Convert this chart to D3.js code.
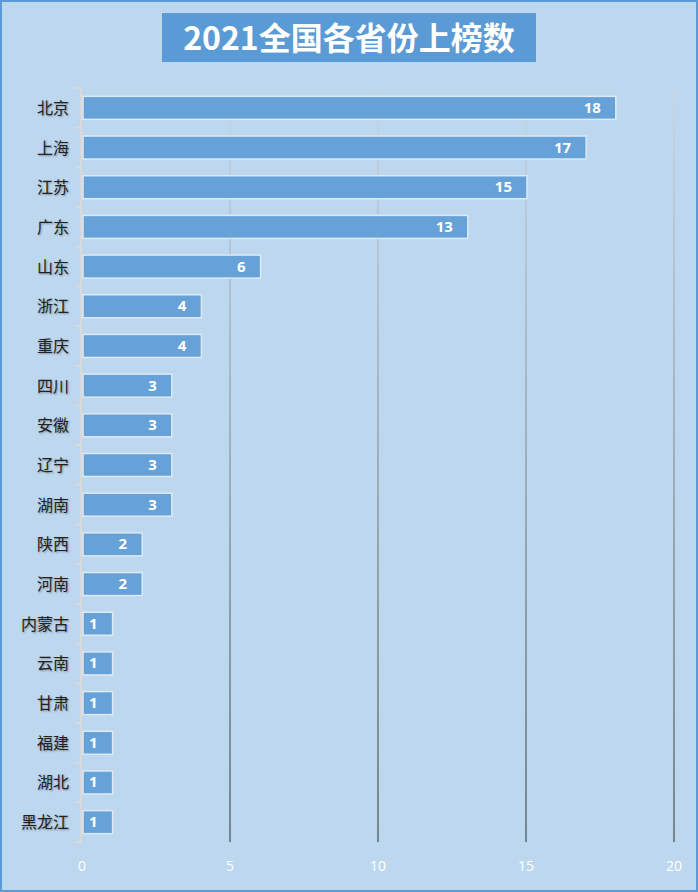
<!DOCTYPE html><html><head><meta charset="utf-8"><script src="https://cdn.jsdelivr.net/npm/d3@7"></script>
<style>body{margin:0}svg{display:block}</style></head><body><svg id="c" width="698" height="892"></svg>
<script>
const categories=["北京","上海","江苏","广东","山东","浙江","重庆","四川","安徽","辽宁","湖南","陕西","河南","内蒙古","云南","甘肃","福建","湖北","黑龙江"];
const values=[18,17,15,13,6,4,4,3,3,3,3,2,2,1,1,1,1,1,1];
const xTicks=[0,5,10,15,20];
const svg=d3.select("#c");
const defs=svg.append("defs");
const g=defs.append("linearGradient").attr("id","gl").attr("gradientUnits","userSpaceOnUse").attr("x1",0).attr("y1",88).attr("x2",0).attr("y2",842);
g.append("stop").attr("offset","0").attr("stop-color","#c6d6e4");
g.append("stop").attr("offset","1").attr("stop-color","#78838f");
svg.append("rect").attr("x",1).attr("y",1).attr("width",696).attr("height",890).attr("fill","#bdd7ee").attr("stroke","#5b9bd5").attr("stroke-width",2);
svg.append("rect").attr("x",162).attr("y",13).attr("width",374).attr("height",49).attr("fill","#5b9bd5");
svg.append("text").attr("x",349).attr("y",50).attr("text-anchor","middle").attr("fill","#fff").attr("font-size",32).attr("font-weight","bold").attr("font-family","'Noto Sans CJK SC',sans-serif").text("2021全国各省份上榜数");
const x=d3.scaleLinear().domain([0,20]).range([82,674]);
const y=d3.scaleBand().domain(categories).range([88,842]).paddingInner(0.42).paddingOuter(0.21);
svg.append("g").selectAll("line").data(xTicks.slice(1)).join("line").attr("x1",d=>x(d)).attr("x2",d=>x(d)).attr("y1",88).attr("y2",842).attr("stroke","url(#gl)").attr("stroke-width",2);
svg.append("line").attr("x1",81).attr("x2",81).attr("y1",88).attr("y2",842).attr("stroke","#d9d9d9").attr("stroke-width",2);
svg.append("g").selectAll("line").data(d3.range(20)).join("line").attr("x1",75).attr("x2",81).attr("y1",i=>88+i*754/19).attr("y2",i=>88+i*754/19).attr("stroke","#d9d9d9").attr("stroke-width",2);
svg.append("g").selectAll("rect").data(values).join("rect").attr("x",x(0)+1).attr("y",(d,i)=>y(categories[i])).attr("width",d=>x(d)-x(0)).attr("height",y.bandwidth()).attr("fill","#66a2d7").attr("stroke","#dde9f5").attr("stroke-width",1.5);
svg.append("g").selectAll("text").data(values).join("text").attr("x",d=>x(d)-14).attr("y",(d,i)=>y(categories[i])+y.bandwidth()/2+5).attr("text-anchor","end").attr("fill","#fff").attr("font-weight","bold").attr("font-size",15).attr("font-family","'Open Sans',sans-serif").text(d=>d);
svg.append("g").selectAll("text").data(categories).join("text").attr("x",69).attr("y",d=>y(d)+y.bandwidth()/2+6).attr("text-anchor","end").attr("fill","#222").attr("font-size",16).attr("font-family","'Noto Sans CJK SC',serif").style("text-shadow","1px 1px 2px rgba(0,0,0,0.35)").text(d=>d);
svg.append("g").selectAll("text").data(xTicks).join("text").attr("x",d=>x(d)).attr("y",871).attr("text-anchor","middle").attr("fill","#fff").attr("font-size",14).attr("font-family","'Open Sans',sans-serif").text(d=>d);
</script></body></html>
